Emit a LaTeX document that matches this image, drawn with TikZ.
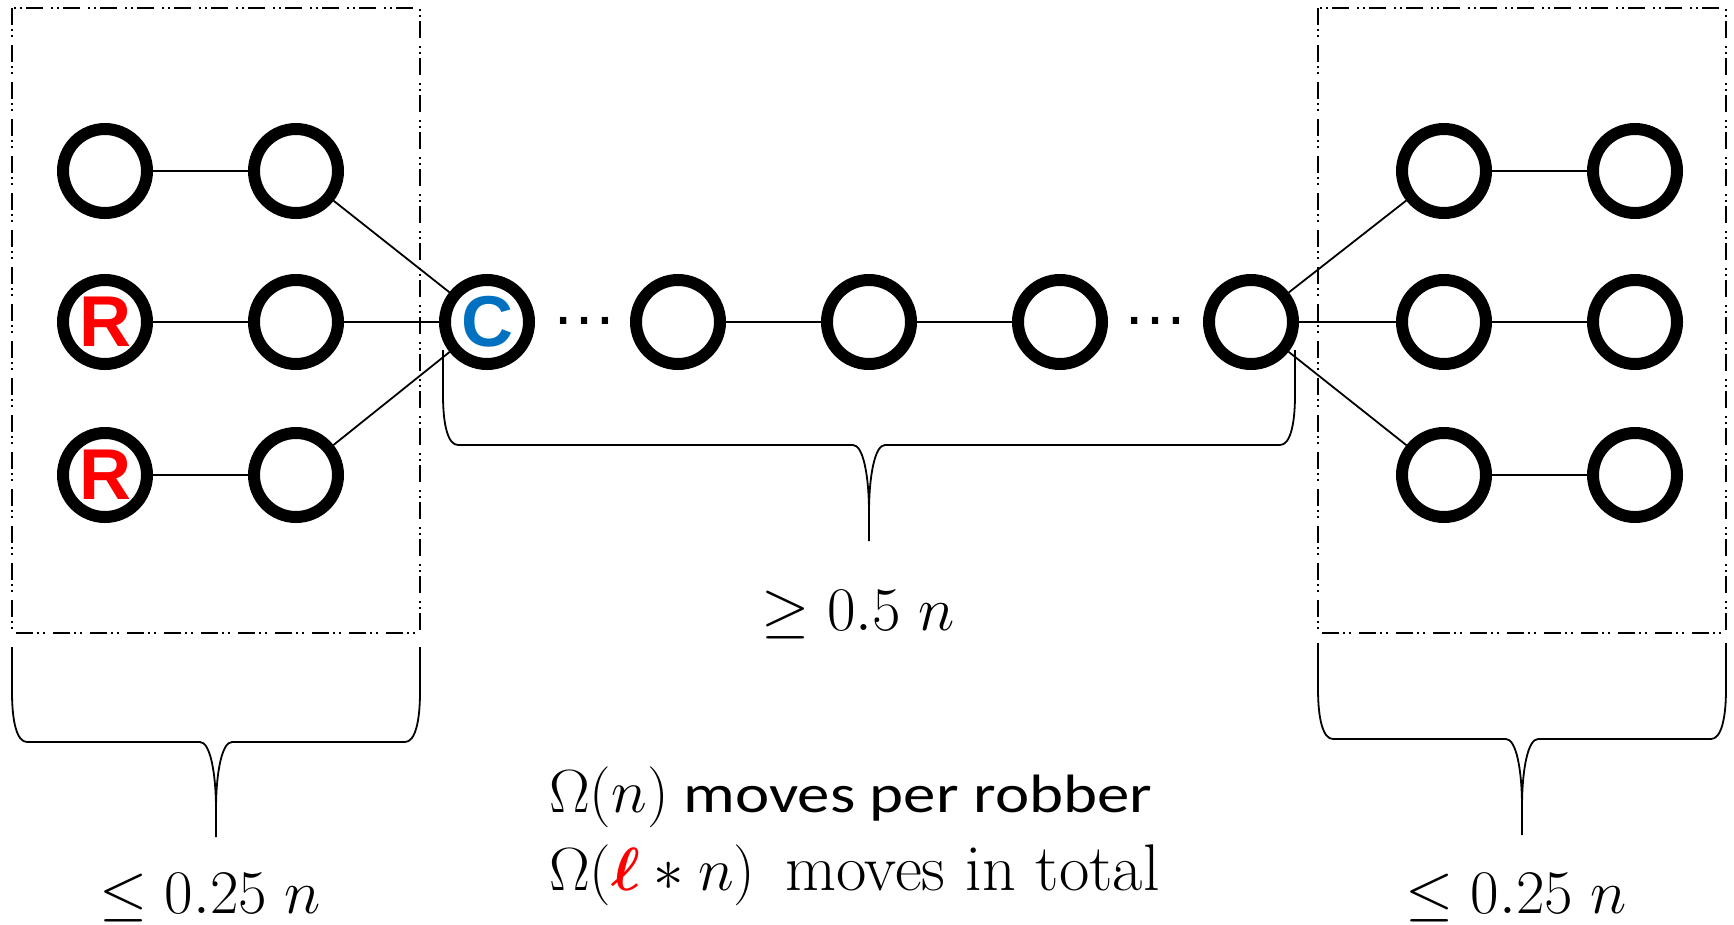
\RequirePackage{fix-cm}
\documentclass[tikz,border=0pt]{standalone}
\usepackage{amsmath}
\usepackage{fontspec}
\newfontfamily\calib[FakeStretch=1.2]{Carlito}
\newfontfamily\arialf{Liberation Sans}
\definecolor{copblue}{RGB}{0,112,192}
\newcommand{\HBrace}[6]{% left, right, top, mid, bottom, centre
  \draw[brace] (#1,#3) -- (#1,{#4-50}) .. controls (#1,{#4-20}) and ({#1+5},#4) .. ({#1+15},#4)
     -- ({#6-16},#4) .. controls ({#6-6},#4) and (#6,{#4+30}) .. (#6,{#4+68}) -- (#6,#5);
  \draw[brace] (#2,#3) -- (#2,{#4-50}) .. controls (#2,{#4-20}) and ({#2-5},#4) .. ({#2-15},#4)
     -- ({#6+16},#4) .. controls ({#6+6},#4) and (#6,{#4+30}) .. (#6,{#4+68});
}
\begin{document}
\begin{tikzpicture}[x=1pt,y=-1pt,
  vtx/.style={circle,draw=black,line width=12pt,minimum size=84pt,inner sep=0pt},
  link/.style={line width=1.8pt},
  region/.style={line width=2pt,dash pattern=on 17pt off 4pt on 2pt off 4pt on 2pt off 8pt},
  brace/.style={line width=1.8pt},
  mathlbl/.style={inner sep=0pt,anchor=base,font=\fontsize{62}{70}\selectfont},
  robber/.style={text=red,font=\arialf\bfseries\fontsize{72}{72}\selectfont},
  cop/.style={text=copblue,font=\arialf\bfseries\fontsize{72}{72}\selectfont},
  dotslbl/.style={inner sep=0pt,anchor=base,font=\arialf\fontsize{66}{66}\selectfont},
  txt/.style={inner sep=0pt,anchor=base west}
]
\useasboundingbox (0,0) rectangle (1734,924);

% regions
\draw[region] (12,8) rectangle (420,633);
\draw[region] (1318,8) rectangle (1726,633);

% left part
\node[vtx] (l11) at (105,171) {};
\node[vtx] (l12) at (296,171) {};
\node[vtx,robber] (l21) at (105,322) {R};
\node[vtx] (l22) at (296,322) {};
\node[vtx,robber] (l31) at (105,475) {R};
\node[vtx] (l32) at (296,475) {};

% middle path
\node[vtx,cop] (c) at (487,322) {C};
\node[vtx] (m2) at (678,322) {};
\node[vtx] (m3) at (869,322) {};
\node[vtx] (m4) at (1060,322) {};
\node[vtx] (m5) at (1251,322) {};
\node[dotslbl] (d1) at (584,324.5) {…};
\node[dotslbl] (d2) at (1155,324.5) {…};

% right part
\node[vtx] (r11) at (1444,171) {};
\node[vtx] (r12) at (1635,171) {};
\node[vtx] (r21) at (1444,322) {};
\node[vtx] (r22) at (1635,322) {};
\node[vtx] (r31) at (1444,475) {};
\node[vtx] (r32) at (1635,475) {};

% edges
\draw[link] (l11) -- (l12);
\draw[link] (l21) -- (l22);
\draw[link] (l31) -- (l32);
\draw[link] (l12) -- (c);
\draw[link] (l22) -- (c);
\draw[link] (l32) -- (c);
\draw[link] (m2) -- (m3);
\draw[link] (m3) -- (m4);
\draw[link] (m5) -- (r11);
\draw[link] (m5) -- (r21);
\draw[link] (m5) -- (r31);
\draw[link] (r11) -- (r12);
\draw[link] (r21) -- (r22);
\draw[link] (r31) -- (r32);

% braces
\HBrace{443}{1295}{350}{445}{541}{869}
\HBrace{12}{420}{647}{742}{837}{216}
\HBrace{1318}{1726}{643}{739}{835}{1522}

% labels
\node[mathlbl] (mid) at (858,630) {$\geq 0.5\;n$};
\node[mathlbl] (lleft) at (210,913) {$\leq 0.25\;n$};
\node[mathlbl] (lright) at (1516,913) {$\leq 0.25\;n$};
\node[txt] (t1) at (549,812) {{\fontsize{61}{70}\selectfont$\Omega(n)$}{\calib\fontsize{54}{60}\selectfont\ moves per robber}};
\node[txt] (t2) at (549,890) {{\fontsize{61}{70}\selectfont$\Omega(\textcolor{red}{\boldsymbol{\ell}}*n)$}\hspace{30pt}{\fontsize{66}{70}\selectfont moves in total}};
\end{tikzpicture}
\end{document}
